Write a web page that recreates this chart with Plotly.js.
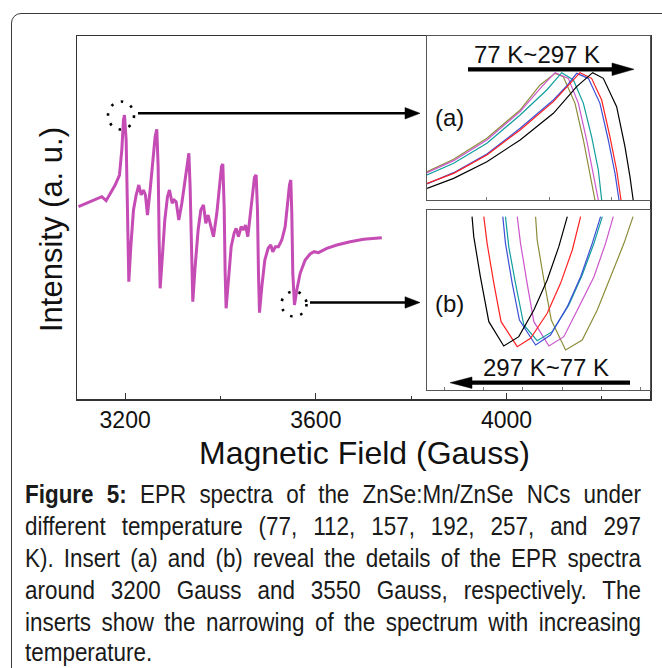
<!DOCTYPE html>
<html>
<head>
<meta charset="utf-8">
<script src="https://cdn.plot.ly/plotly-3.0.1.min.js"></script>
<style>
  html, body { margin:0; padding:0; background:#fff; }
  #wrap { position:relative; width:662px; height:668px; overflow:hidden; background:#fff; }
  #frame { position:absolute; left:11px; top:13px; width:720px; height:720px; border:1.5px solid #3a3a3a; border-radius:10px; box-sizing:border-box; }
  #plot { position:absolute; left:0; top:0; width:662px; height:668px; }
  #cap { position:absolute; left:25px; top:478px; width:616px; font-family:"Liberation Sans", Arial, sans-serif; font-size:25.5px; line-height:32px; color:#1a1a1a; }
  #cap div { width:700px; transform:scaleX(0.88); transform-origin:0 0; text-align:justify; text-align-last:justify; white-space:normal; height:32px; }
  #cap div.last { text-align-last:left; height:29px; line-height:29px; }
</style>
</head>
<body>
<div id="wrap">
  <div id="frame"></div>
  <div id="plot"></div>
  <div id="cap">
    <div><b>Figure 5:</b> EPR spectra of the ZnSe:Mn/ZnSe NCs under</div>
    <div>different temperature (77, 112, 157, 192, 257, and 297</div>
    <div>K). Insert (a) and (b) reveal the details of the EPR spectra</div>
    <div>around 3200 Gauss and 3550 Gauss, respectively. The</div>
    <div>inserts show the narrowing of the spectrum with increasing</div>
    <div class="last">temperature.</div>
  </div>
</div>
<script>
// ---------- Main spectrum (magnetic field in Gauss, intensity in arbitrary units) ----------
const mainField = [3102.1,3126.6,3151.1,3160.1,3168.5,3179.0,3188.1,3193.0,3196.5,3198.6,3202.1,3204.9,3207.7,
  3211.9,3217.5,3223.1,3228.7,3233.6,3238.4,3242.6,3246.8,3252.4,3258.0,3262.9,3266.4,3269.2,3271.3,3273.4,
  3277.6,3283.2,3288.8,3293.0,3298.6,3302.8,3307.0,3312.6,3318.9,3325.9,3330.8,3333.6,3336.3,3339.1,3341.9,
  3346.8,3353.1,3358.7,3364.3,3369.2,3374.1,3378.3,3385.3,3392.3,3397.9,3402.1,3404.9,3407.7,3409.8,3411.8,
  3416.7,3422.4,3428.6,3432.8,3437.7,3443.4,3448.2,3452.4,3457.3,3462.2,3467.8,3471.3,3474.8,3477.6,3479.7,3481.8,
  3486.7,3493.0,3500.0,3505.5,3509.7,3515.3,3521.6,3528.6,3535.7,3541.2,3544.7,3547.5,3549.6,3551.7,3555.2,
  3560.1,3567.1,3577.6,3588.0,3596.4,3605.5,3623.0,3644.0,3672.1,3700.1,3738.4];
const mainIntensity = [193.3,198.3,203.3,199.3,206.7,215,225,250,280,285,260,166.7,118.3,
  153.3,190,205,215,205,210,205,185,210,236.7,263.3,270.7,233.3,160,111.7,
  140,180,203.3,210,196.7,200,198.3,180,196.7,220,240,246.7,213.3,140,98.3,
  133.3,170,190,195,176.7,185,176.7,163.3,186.7,213.3,233.3,236,193.3,126.7,91.7,
  120,153.3,166.7,171.7,163.3,173.3,170,175,163.3,186.7,213.3,222.7,225,190,126.7,87.3,
  113.3,140,151.7,155,148.3,153.3,153.3,160,173.3,196.7,215,220,186.7,126.7,95,
  110,126.7,140,146,148.3,147.3,151.7,155,158.3,160.7,162.3];

// ---------- Temperatures and colours ----------
const temps  = ['77 K','112 K','157 K','192 K','257 K','297 K'];
const colors = ['#8c8c3a','#cc55cc','#119e9e','#3c4fd6','#ff2020','#000000'];

// ---------- Insert (a): around 3200 Gauss ----------
const aField = [
  [3190.19,3192.33,3195.00,3197.67,3199.27,3200.48,3201.14,3202.08,3202.75,3203.28,3203.68],
  [3190.19,3192.33,3195.00,3197.67,3199.41,3200.48,3201.54,3202.35,3203.01,3203.55,3203.95],
  [3190.19,3192.33,3195.00,3197.67,3199.81,3201.01,3201.95,3202.75,3203.41,3203.95,3204.22],
  [3190.19,3192.33,3195.00,3197.67,3200.34,3201.41,3202.21,3203.15,3204.08,3204.75,3205.29,3205.61],
  [3190.19,3192.33,3195.00,3197.67,3200.34,3201.41,3202.48,3203.41,3204.22,3204.88,3205.42,3205.77],
  [3190.19,3192.33,3195.00,3197.67,3200.34,3202.21,3203.50,3204.35,3205.42,3206.09,3206.49,3206.75]
];
const aIntensity = [
  [0.85,1.22,1.85,2.70,3.45,3.80,3.70,2.90,1.80,0.80,0.00],
  [0.82,1.18,1.80,2.65,3.40,3.82,3.65,2.90,1.80,0.80,0.00],
  [0.75,1.10,1.70,2.55,3.30,3.82,3.60,2.90,1.90,0.90,0.00],
  [0.48,0.82,1.38,2.15,3.00,3.42,3.80,3.65,2.90,1.80,0.80,0.00],
  [0.50,0.80,1.35,2.10,2.95,3.40,3.82,3.65,3.00,1.90,0.90,0.00],
  [0.35,0.65,1.15,1.80,2.60,3.40,3.82,3.65,2.80,1.60,0.70,0.00]
];

// ---------- Insert (b): around 3550 Gauss ----------
const bField = [
  [3548.31,3548.41,3548.84,3549.31,3550.22,3551.28,3552.24,3553.20,3553.94,3554.52],
  [3547.14,3547.35,3547.77,3548.20,3549.16,3550.11,3550.97,3552.03,3552.77,3553.26],
  [3546.39,3546.60,3547.03,3547.56,3548.41,3549.37,3550.43,3551.28,3552.03,3552.56],
  [3546.22,3546.39,3546.82,3547.28,3548.31,3549.26,3550.33,3551.18,3551.92,3552.45],
  [3545.01,3545.22,3545.65,3546.11,3547.14,3547.99,3549.05,3549.90,3550.65,3551.18],
  [3544.26,3544.37,3544.79,3545.33,3546.28,3547.24,3548.20,3549.05,3549.79,3550.33]
];
const bIntensity = [
  [5.20,4.50,3.30,2.10,1.20,1.50,2.40,3.50,4.40,5.20],
  [5.20,4.40,3.20,2.05,1.32,1.60,2.40,3.40,4.40,5.20],
  [5.20,4.30,3.20,1.95,1.48,1.75,2.55,3.45,4.40,5.20],
  [5.20,4.40,3.20,2.10,1.35,1.65,2.50,3.40,4.40,5.20],
  [5.20,4.40,3.20,2.05,1.30,1.55,2.30,3.20,4.20,5.20],
  [5.20,4.60,3.40,2.05,1.32,1.60,2.40,3.30,4.30,5.20]
];

const xTickVals = [3200, 3600, 4000];

// ---------- geometry helpers (plot area in pixels) ----------
const L = 77, R = 650, T = 36, B = 399;
const px = x => (x - L) / (R - L);
const py = y => (B - y) / (B - T);

const traces = [];
traces.push({x: mainField, y: mainIntensity, xaxis:'x', yaxis:'y', mode:'lines',
  line:{color:'#c54bb5', width:3}, name:'spectra', showlegend:false, hoverinfo:'skip'});
for (let i = 0; i < temps.length; i++) {
  traces.push({x: aField[i], y: aIntensity[i], xaxis:'x2', yaxis:'y2', mode:'lines',
    line:{color:colors[i], width:1.2}, name:temps[i], showlegend:false});
  traces.push({x: bField[i], y: bIntensity[i], xaxis:'x3', yaxis:'y3', mode:'lines',
    line:{color:colors[i], width:1.2}, name:temps[i], showlegend:false});
}

const FONT = '"Liberation Sans", Arial, sans-serif';
const insetAxis = (extra) => Object.assign({showline:true, mirror:true, linecolor:'#555', linewidth:1,
  showgrid:false, zeroline:false, showticklabels:false, fixedrange:true}, extra);

const layout = {
  width:662, height:668,
  margin:{l:L, r:662-R, t:T, b:668-B},
  paper_bgcolor:'rgba(0,0,0,0)', plot_bgcolor:'rgba(0,0,0,0)',
  showlegend:false,
  font:{family:FONT, color:'#111'},
  xaxis:{domain:[0,1], range:[3099, 4301], showline:true, mirror:true, linecolor:'#333', linewidth:1.5,
    showgrid:false, zeroline:false, ticks:'inside', ticklen:6, tickwidth:1.2, tickcolor:'#333',
    tickvals:xTickVals, ticktext:xTickVals.map(String), tickfont:{size:23, family:FONT, color:'#111'},
    minor:{ticks:'inside', ticklen:3, tickwidth:1, tickcolor:'#333', dtick:200, tick0:3200, showgrid:false}},
  yaxis:{domain:[0,1], range:[1, 364], showline:true, mirror:true, linecolor:'#333', linewidth:1.5,
    showgrid:false, zeroline:false, showticklabels:false, ticks:''},
  xaxis2: insetAxis({domain:[px(427), 1], anchor:'y2', range:[3190.19, 3208.1],
    ticks:'inside', ticklen:3, tickcolor:'#777', tick0:3195, dtick:5}),
  yaxis2: insetAxis({domain:[py(200), 1], anchor:'x2', range:[0, 4.92], ticks:''}),
  xaxis3: insetAxis({domain:[px(427), 1], anchor:'y3', range:[3541.39, 3555.6],
    ticks:'inside', ticklen:3, tickcolor:'#777', tick0:3545, dtick:2.5}),
  yaxis3: insetAxis({domain:[py(390), py(210)], anchor:'x3', range:[0, 5.40], ticks:''}),
  annotations:[
    {xref:'paper', yref:'paper', x:px(364), y:py(453), text:'Magnetic Field (Gauss)', showarrow:false,
      xanchor:'center', yanchor:'middle', font:{size:32, family:FONT, color:'#111'}},
    {xref:'paper', yref:'paper', x:px(51), y:py(230), text:'Intensity (a. u.)', showarrow:false, textangle:-90,
      xanchor:'center', yanchor:'middle', font:{size:31, family:FONT, color:'#111'}},
    {xref:'paper', yref:'paper', x:px(537), y:py(55), text:'77 K~297 K', showarrow:false,
      xanchor:'center', yanchor:'middle', font:{size:24, family:FONT, color:'#111'}},
    {xref:'paper', yref:'paper', x:px(449), y:py(117), text:'(a)', showarrow:false,
      xanchor:'center', yanchor:'middle', font:{size:24, family:FONT, color:'#111'}},
    {xref:'paper', yref:'paper', x:px(449), y:py(303), text:'(b)', showarrow:false,
      xanchor:'center', yanchor:'middle', font:{size:24, family:FONT, color:'#111'}},
    {xref:'paper', yref:'paper', x:px(546), y:py(367), text:'297 K~77 K', showarrow:false,
      xanchor:'center', yanchor:'middle', font:{size:24, family:FONT, color:'#111'}}
  ],
  shapes:[
    {type:'line', xref:'paper', yref:'paper', x0:px(138), y0:py(113.3), x1:px(408), y1:py(113.3), line:{color:'#000', width:2.6}},
    {type:'path', xref:'paper', yref:'paper', fillcolor:'#000', line:{color:'#000', width:0.5},
      path:`M ${px(405)} ${py(107.5)} L ${px(420)} ${py(113.3)} L ${px(405)} ${py(119)} Z`},
    {type:'line', xref:'paper', yref:'paper', x0:px(310), y0:py(302.5), x1:px(408), y1:py(302.5), line:{color:'#000', width:2.6}},
    {type:'path', xref:'paper', yref:'paper', fillcolor:'#000', line:{color:'#000', width:0.5},
      path:`M ${px(405)} ${py(296.7)} L ${px(420)} ${py(302.5)} L ${px(405)} ${py(308.2)} Z`},
    {type:'circle', xref:'paper', yref:'paper', x0:px(108), x1:px(134), y0:py(101.5), y1:py(129.5),
      line:{color:'#000', width:2.6, dash:'2.5px,8px'}},
    {type:'circle', xref:'paper', yref:'paper', x0:px(281.5), x1:px(306.5), y0:py(291.5), y1:py(316.5),
      line:{color:'#000', width:2.6, dash:'2.5px,8px'}},
    {type:'line', xref:'paper', yref:'paper', x0:px(468), y0:py(69.3), x1:px(616), y1:py(69.3), line:{color:'#000', width:4.3}},
    {type:'path', xref:'paper', yref:'paper', fillcolor:'#000', line:{color:'#000', width:0.5},
      path:`M ${px(612)} ${py(63)} L ${px(634)} ${py(69.3)} L ${px(612)} ${py(75.6)} Z`},
    {type:'line', xref:'paper', yref:'paper', x0:px(468), y0:py(382.7), x1:px(630), y1:py(382.7), line:{color:'#000', width:4.3}},
    {type:'path', xref:'paper', yref:'paper', fillcolor:'#000', line:{color:'#000', width:0.5},
      path:`M ${px(472)} ${py(377)} L ${px(450)} ${py(382.7)} L ${px(472)} ${py(388.4)} Z`}
  ]
};

Plotly.newPlot('plot', traces, layout, {displayModeBar:false, staticPlot:true});
</script>
</body>
</html>
